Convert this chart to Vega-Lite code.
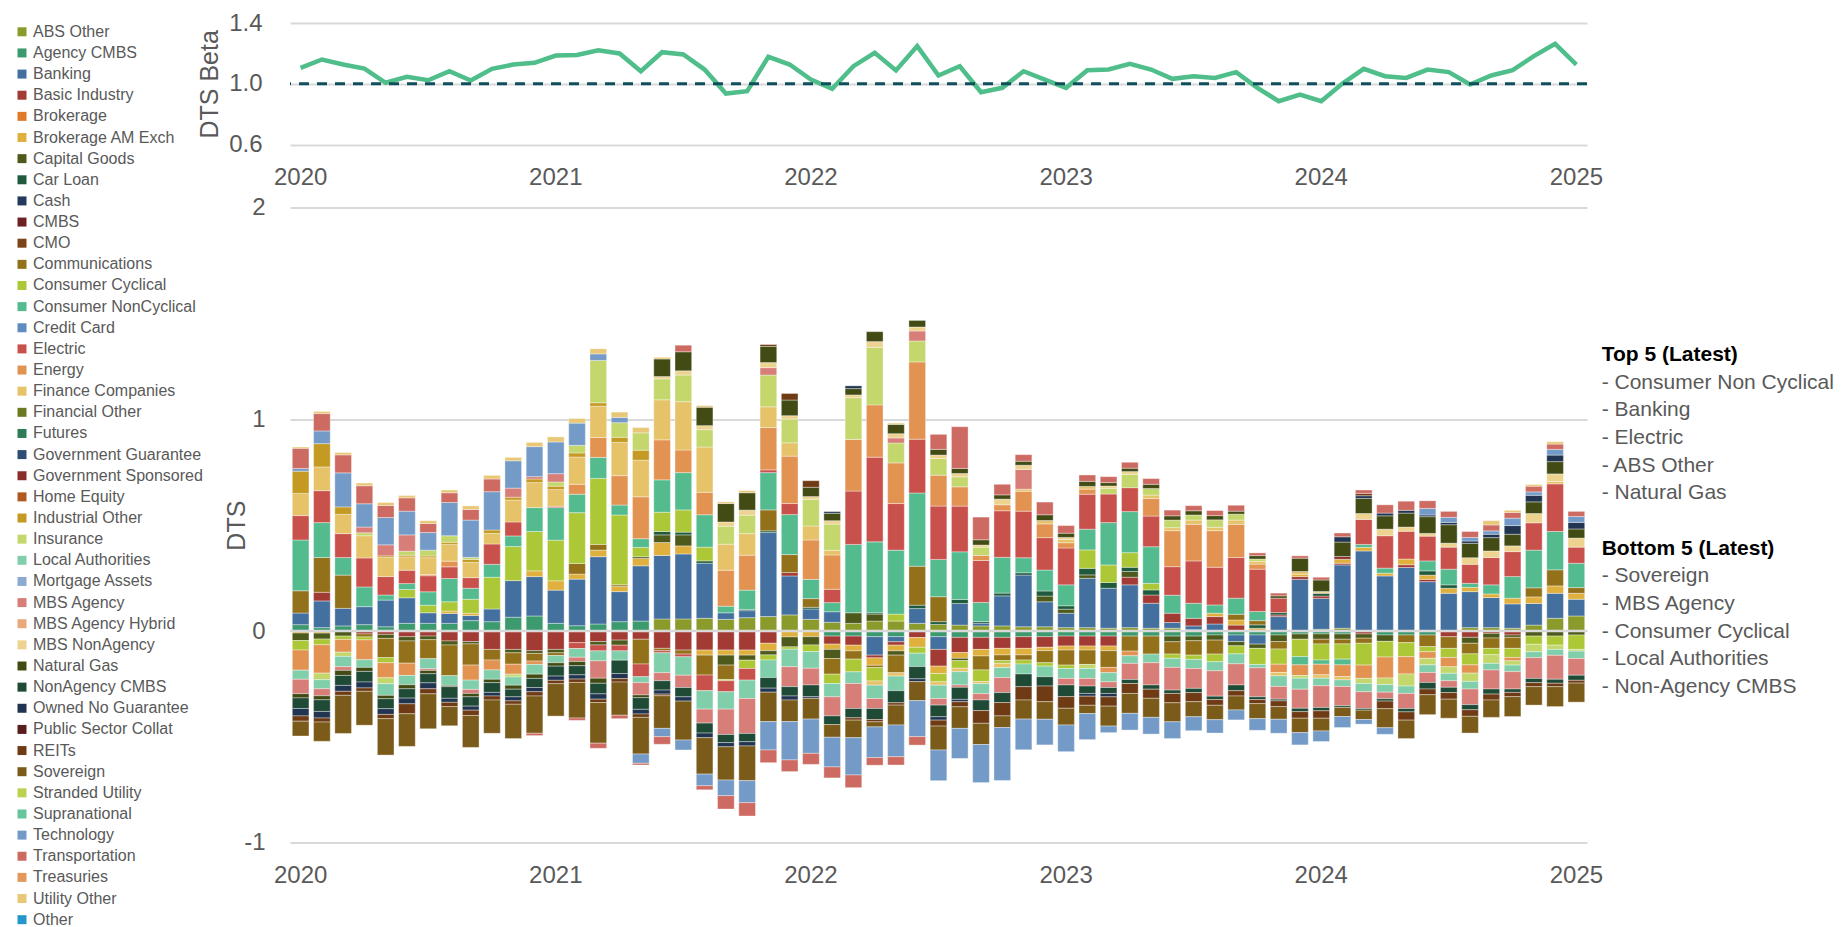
{
"$schema":"https://vega.github.io/schema/vega-lite/v6.json",
"background":"white",
"padding":{"left":14,"top":11,"right":0,"bottom":0},
"autosize":{"type":"pad"},
"config":{"font":"Liberation Sans","view":{"stroke":null},
"axis":{"labelColor":"#595959","titleColor":"#595959","labelFont":"Liberation Sans","titleFont":"Liberation Sans","labelFontSize":24,"titleFontSize":25,"titleFontWeight":"normal","domain":false,"ticks":false,"gridColor":"#d9d9d9","gridWidth":2}},
"datasets":{
"cats":[{"c":"AO","s":"ABS Other","o":0},{"c":"AC","s":"Agency CMBS","o":1},{"c":"BK","s":"Banking","o":2},{"c":"BI","s":"Basic Industry","o":3},{"c":"BR","s":"Brokerage","o":4},{"c":"BA","s":"Brokerage AM Exch","o":5},{"c":"CG","s":"Capital Goods","o":6},{"c":"CL","s":"Car Loan","o":7},{"c":"CA","s":"Cash","o":8},{"c":"CM","s":"CMBS","o":9},{"c":"CO","s":"CMO","o":10},{"c":"CC","s":"Communications","o":11},{"c":"CY","s":"Consumer Cyclical","o":12},{"c":"CN","s":"Consumer NonCyclical","o":13},{"c":"CR","s":"Credit Card","o":14},{"c":"EL","s":"Electric","o":15},{"c":"EN","s":"Energy","o":16},{"c":"FC","s":"Finance Companies","o":17},{"c":"FO","s":"Financial Other","o":18},{"c":"FU","s":"Futures","o":19},{"c":"GG","s":"Government Guarantee","o":20},{"c":"GS","s":"Government Sponsored","o":21},{"c":"HE","s":"Home Equity","o":22},{"c":"IO","s":"Industrial Other","o":23},{"c":"IN","s":"Insurance","o":24},{"c":"LA","s":"Local Authorities","o":25},{"c":"MA","s":"Mortgage Assets","o":26},{"c":"MB","s":"MBS Agency","o":27},{"c":"MH","s":"MBS Agency Hybrid","o":28},{"c":"MN","s":"MBS NonAgency","o":29},{"c":"NG","s":"Natural Gas","o":30},{"c":"NC","s":"NonAgency CMBS","o":31},{"c":"ON","s":"Owned No Guarantee","o":32},{"c":"PS","s":"Public Sector Collat","o":33},{"c":"RE","s":"REITs","o":34},{"c":"SV","s":"Sovereign","o":35},{"c":"SU","s":"Stranded Utility","o":36},{"c":"SN","s":"Supranational","o":37},{"c":"TE","s":"Technology","o":38},{"c":"TR","s":"Transportation","o":39},{"c":"TS","s":"Treasuries","o":40},{"c":"UO","s":"Utility Other","o":41},{"c":"OT","s":"Other","o":42}],
"beta":[{"m":"2020-01","b":1.105},{"m":"2020-02","b":1.16},{"m":"2020-03","b":1.127},{"m":"2020-04","b":1.1},{"m":"2020-05","b":1.007},{"m":"2020-06","b":1.046},{"m":"2020-07","b":1.024},{"m":"2020-08","b":1.083},{"m":"2020-09","b":1.022},{"m":"2020-10","b":1.099},{"m":"2020-11","b":1.127},{"m":"2020-12","b":1.138},{"m":"2021-01","b":1.186},{"m":"2021-02","b":1.19},{"m":"2021-03","b":1.221},{"m":"2021-04","b":1.2},{"m":"2021-05","b":1.083},{"m":"2021-06","b":1.208},{"m":"2021-07","b":1.193},{"m":"2021-08","b":1.094},{"m":"2021-09","b":0.936},{"m":"2021-10","b":0.952},{"m":"2021-11","b":1.178},{"m":"2021-12","b":1.127},{"m":"2022-01","b":1.028},{"m":"2022-02","b":0.967},{"m":"2022-03","b":1.116},{"m":"2022-04","b":1.204},{"m":"2022-05","b":1.088},{"m":"2022-06","b":1.248},{"m":"2022-07","b":1.055},{"m":"2022-08","b":1.116},{"m":"2022-09","b":0.945},{"m":"2022-10","b":0.974},{"m":"2022-11","b":1.083},{"m":"2022-12","b":1.028},{"m":"2023-01","b":0.974},{"m":"2023-02","b":1.09},{"m":"2023-03","b":1.094},{"m":"2023-04","b":1.131},{"m":"2023-05","b":1.094},{"m":"2023-06","b":1.033},{"m":"2023-07","b":1.05},{"m":"2023-08","b":1.039},{"m":"2023-09","b":1.077},{"m":"2023-10","b":0.974},{"m":"2023-11","b":0.886},{"m":"2023-12","b":0.93},{"m":"2024-01","b":0.886},{"m":"2024-02","b":1.002},{"m":"2024-03","b":1.099},{"m":"2024-04","b":1.05},{"m":"2024-05","b":1.039},{"m":"2024-06","b":1.094},{"m":"2024-07","b":1.077},{"m":"2024-08","b":0.996},{"m":"2024-09","b":1.055},{"m":"2024-10","b":1.09},{"m":"2024-11","b":1.182},{"m":"2024-12","b":1.263},{"m":"2025-01","b":1.127}],
"notes":[{"k":0,"t":"Top 5 (Latest)","h":true},{"k":1,"t":"- Consumer Non Cyclical","h":false},{"k":2,"t":"- Banking","h":false},{"k":3,"t":"- Electric","h":false},{"k":4,"t":"- ABS Other","h":false},{"k":5,"t":"- Natural Gas","h":false},{"k":7,"t":"Bottom 5 (Latest)","h":true},{"k":8,"t":"- Sovereign","h":false},{"k":9,"t":"- MBS Agency","h":false},{"k":10,"t":"- Consumer Cyclical","h":false},{"k":11,"t":"- Local Authorities","h":false},{"k":12,"t":"- Non-Agency CMBS","h":false}],
"bars":[
{"m":"2020-01","c":"AC","v":0.03},{"m":"2020-01","c":"BK","v":0.055},{"m":"2020-01","c":"CC","v":0.105},{"m":"2020-01","c":"CN","v":0.24},{"m":"2020-01","c":"EL","v":0.115},{"m":"2020-01","c":"FC","v":0.105},{"m":"2020-01","c":"IO","v":0.105},{"m":"2020-01","c":"TE","v":0.013},{"m":"2020-01","c":"TR","v":0.095},{"m":"2020-01","c":"UO","v":0.006},{"m":"2020-01","c":"BA","v":-0.01},{"m":"2020-01","c":"CG","v":-0.035},{"m":"2020-01","c":"CY","v":-0.045},{"m":"2020-01","c":"EN","v":-0.095},{"m":"2020-01","c":"LA","v":-0.043},{"m":"2020-01","c":"MB","v":-0.068},{"m":"2020-01","c":"NG","v":-0.02},{"m":"2020-01","c":"NC","v":-0.05},{"m":"2020-01","c":"ON","v":-0.035},{"m":"2020-01","c":"RE","v":-0.025},{"m":"2020-01","c":"SV","v":-0.07},
{"m":"2020-02","c":"AC","v":0.016},{"m":"2020-02","c":"BK","v":0.126},{"m":"2020-02","c":"BI","v":0.041},{"m":"2020-02","c":"CC","v":0.164},{"m":"2020-02","c":"CN","v":0.165},{"m":"2020-02","c":"EL","v":0.151},{"m":"2020-02","c":"FC","v":0.112},{"m":"2020-02","c":"IO","v":0.11},{"m":"2020-02","c":"TE","v":0.06},{"m":"2020-02","c":"TR","v":0.082},{"m":"2020-02","c":"UO","v":0.01},{"m":"2020-02","c":"BA","v":-0.01},{"m":"2020-02","c":"CG","v":-0.028},{"m":"2020-02","c":"CY","v":-0.027},{"m":"2020-02","c":"EN","v":-0.134},{"m":"2020-02","c":"IN","v":-0.031},{"m":"2020-02","c":"LA","v":-0.043},{"m":"2020-02","c":"MB","v":-0.033},{"m":"2020-02","c":"NG","v":-0.019},{"m":"2020-02","c":"NC","v":-0.055},{"m":"2020-02","c":"ON","v":-0.031},{"m":"2020-02","c":"RE","v":-0.019},{"m":"2020-02","c":"SV","v":-0.091},
{"m":"2020-03","c":"AC","v":0.024},{"m":"2020-03","c":"BK","v":0.083},{"m":"2020-03","c":"CC","v":0.157},{"m":"2020-03","c":"CN","v":0.083},{"m":"2020-03","c":"EL","v":0.113},{"m":"2020-03","c":"FC","v":0.091},{"m":"2020-03","c":"IO","v":0.035},{"m":"2020-03","c":"TE","v":0.161},{"m":"2020-03","c":"TR","v":0.085},{"m":"2020-03","c":"UO","v":0.011},{"m":"2020-03","c":"CG","v":-0.024},{"m":"2020-03","c":"CY","v":-0.016},{"m":"2020-03","c":"EN","v":-0.06},{"m":"2020-03","c":"IN","v":-0.02},{"m":"2020-03","c":"LA","v":-0.049},{"m":"2020-03","c":"MB","v":-0.017},{"m":"2020-03","c":"NG","v":-0.024},{"m":"2020-03","c":"NC","v":-0.047},{"m":"2020-03","c":"ON","v":-0.028},{"m":"2020-03","c":"RE","v":-0.019},{"m":"2020-03","c":"SV","v":-0.18},
{"m":"2020-04","c":"AC","v":0.03},{"m":"2020-04","c":"BK","v":0.085},{"m":"2020-04","c":"CN","v":0.093},{"m":"2020-04","c":"EL","v":0.137},{"m":"2020-04","c":"FC","v":0.105},{"m":"2020-04","c":"IN","v":0.014},{"m":"2020-04","c":"MB","v":0.027},{"m":"2020-04","c":"TE","v":0.11},{"m":"2020-04","c":"TR","v":0.085},{"m":"2020-04","c":"UO","v":0.013},{"m":"2020-04","c":"BI","v":-0.014},{"m":"2020-04","c":"CC","v":-0.014},{"m":"2020-04","c":"CY","v":-0.014},{"m":"2020-04","c":"EN","v":-0.094},{"m":"2020-04","c":"LA","v":-0.036},{"m":"2020-04","c":"NG","v":-0.019},{"m":"2020-04","c":"NC","v":-0.05},{"m":"2020-04","c":"ON","v":-0.028},{"m":"2020-04","c":"RE","v":-0.016},{"m":"2020-04","c":"SV","v":-0.16},
{"m":"2020-05","c":"AC","v":0.02},{"m":"2020-05","c":"BK","v":0.126},{"m":"2020-05","c":"CN","v":0.024},{"m":"2020-05","c":"EL","v":0.087},{"m":"2020-05","c":"FC","v":0.09},{"m":"2020-05","c":"IO","v":0.008},{"m":"2020-05","c":"MB","v":0.052},{"m":"2020-05","c":"TE","v":0.129},{"m":"2020-05","c":"TR","v":0.057},{"m":"2020-05","c":"UO","v":0.014},{"m":"2020-05","c":"BI","v":-0.016},{"m":"2020-05","c":"CG","v":-0.019},{"m":"2020-05","c":"CC","v":-0.091},{"m":"2020-05","c":"CY","v":-0.024},{"m":"2020-05","c":"EN","v":-0.071},{"m":"2020-05","c":"IN","v":-0.028},{"m":"2020-05","c":"LA","v":-0.055},{"m":"2020-05","c":"NG","v":-0.016},{"m":"2020-05","c":"NC","v":-0.047},{"m":"2020-05","c":"ON","v":-0.027},{"m":"2020-05","c":"RE","v":-0.02},{"m":"2020-05","c":"SV","v":-0.172},
{"m":"2020-06","c":"AC","v":0.036},{"m":"2020-06","c":"BK","v":0.121},{"m":"2020-06","c":"CY","v":0.039},{"m":"2020-06","c":"CN","v":0.028},{"m":"2020-06","c":"EL","v":0.063},{"m":"2020-06","c":"FC","v":0.063},{"m":"2020-06","c":"IO","v":0.008},{"m":"2020-06","c":"IN","v":0.019},{"m":"2020-06","c":"MB","v":0.077},{"m":"2020-06","c":"TE","v":0.112},{"m":"2020-06","c":"TR","v":0.063},{"m":"2020-06","c":"UO","v":0.011},{"m":"2020-06","c":"BI","v":-0.027},{"m":"2020-06","c":"CG","v":-0.02},{"m":"2020-06","c":"CC","v":-0.105},{"m":"2020-06","c":"EN","v":-0.058},{"m":"2020-06","c":"LA","v":-0.044},{"m":"2020-06","c":"NG","v":-0.019},{"m":"2020-06","c":"NC","v":-0.044},{"m":"2020-06","c":"ON","v":-0.027},{"m":"2020-06","c":"RE","v":-0.047},{"m":"2020-06","c":"SV","v":-0.154},
{"m":"2020-07","c":"AC","v":0.036},{"m":"2020-07","c":"BK","v":0.05},{"m":"2020-07","c":"CY","v":0.036},{"m":"2020-07","c":"CN","v":0.063},{"m":"2020-07","c":"EL","v":0.076},{"m":"2020-07","c":"EN","v":0.006},{"m":"2020-07","c":"FC","v":0.079},{"m":"2020-07","c":"IO","v":0.008},{"m":"2020-07","c":"IN","v":0.028},{"m":"2020-07","c":"TE","v":0.083},{"m":"2020-07","c":"TR","v":0.043},{"m":"2020-07","c":"UO","v":0.013},{"m":"2020-07","c":"BI","v":-0.024},{"m":"2020-07","c":"CG","v":-0.017},{"m":"2020-07","c":"CC","v":-0.09},{"m":"2020-07","c":"LA","v":-0.047},{"m":"2020-07","c":"MB","v":-0.008},{"m":"2020-07","c":"NG","v":-0.016},{"m":"2020-07","c":"NC","v":-0.043},{"m":"2020-07","c":"ON","v":-0.028},{"m":"2020-07","c":"RE","v":-0.024},{"m":"2020-07","c":"SV","v":-0.165},
{"m":"2020-08","c":"AC","v":0.036},{"m":"2020-08","c":"BK","v":0.047},{"m":"2020-08","c":"BA","v":0.011},{"m":"2020-08","c":"CY","v":0.044},{"m":"2020-08","c":"CN","v":0.11},{"m":"2020-08","c":"EL","v":0.055},{"m":"2020-08","c":"EN","v":0.027},{"m":"2020-08","c":"FC","v":0.079},{"m":"2020-08","c":"IO","v":0.01},{"m":"2020-08","c":"IN","v":0.031},{"m":"2020-08","c":"TE","v":0.157},{"m":"2020-08","c":"TR","v":0.046},{"m":"2020-08","c":"UO","v":0.013},{"m":"2020-08","c":"BI","v":-0.047},{"m":"2020-08","c":"CG","v":-0.019},{"m":"2020-08","c":"CC","v":-0.145},{"m":"2020-08","c":"LA","v":-0.046},{"m":"2020-08","c":"NG","v":-0.006},{"m":"2020-08","c":"NC","v":-0.055},{"m":"2020-08","c":"ON","v":-0.019},{"m":"2020-08","c":"RE","v":-0.02},{"m":"2020-08","c":"SV","v":-0.091},
{"m":"2020-09","c":"AC","v":0.049},{"m":"2020-09","c":"BK","v":0.024},{"m":"2020-09","c":"BA","v":0.011},{"m":"2020-09","c":"CY","v":0.066},{"m":"2020-09","c":"CN","v":0.052},{"m":"2020-09","c":"EL","v":0.05},{"m":"2020-09","c":"FC","v":0.072},{"m":"2020-09","c":"IO","v":0.014},{"m":"2020-09","c":"IN","v":0.01},{"m":"2020-09","c":"TE","v":0.176},{"m":"2020-09","c":"TR","v":0.05},{"m":"2020-09","c":"UO","v":0.017},{"m":"2020-09","c":"BI","v":-0.05},{"m":"2020-09","c":"CG","v":-0.011},{"m":"2020-09","c":"CC","v":-0.1},{"m":"2020-09","c":"EN","v":-0.071},{"m":"2020-09","c":"LA","v":-0.044},{"m":"2020-09","c":"MB","v":-0.019},{"m":"2020-09","c":"NG","v":-0.016},{"m":"2020-09","c":"NC","v":-0.044},{"m":"2020-09","c":"ON","v":-0.019},{"m":"2020-09","c":"RE","v":-0.025},{"m":"2020-09","c":"SV","v":-0.151},
{"m":"2020-10","c":"AC","v":0.044},{"m":"2020-10","c":"BK","v":0.06},{"m":"2020-10","c":"CY","v":0.15},{"m":"2020-10","c":"CN","v":0.061},{"m":"2020-10","c":"EL","v":0.096},{"m":"2020-10","c":"FC","v":0.05},{"m":"2020-10","c":"IO","v":0.016},{"m":"2020-10","c":"TE","v":0.181},{"m":"2020-10","c":"TR","v":0.06},{"m":"2020-10","c":"UO","v":0.017},{"m":"2020-10","c":"BI","v":-0.087},{"m":"2020-10","c":"CC","v":-0.05},{"m":"2020-10","c":"EN","v":-0.047},{"m":"2020-10","c":"LA","v":-0.044},{"m":"2020-10","c":"NG","v":-0.016},{"m":"2020-10","c":"NC","v":-0.046},{"m":"2020-10","c":"ON","v":-0.017},{"m":"2020-10","c":"RE","v":-0.019},{"m":"2020-10","c":"SV","v":-0.157},
{"m":"2020-11","c":"AC","v":0.065},{"m":"2020-11","c":"BK","v":0.173},{"m":"2020-11","c":"CY","v":0.161},{"m":"2020-11","c":"CN","v":0.05},{"m":"2020-11","c":"EL","v":0.066},{"m":"2020-11","c":"FC","v":0.104},{"m":"2020-11","c":"IO","v":0.013},{"m":"2020-11","c":"MB","v":0.043},{"m":"2020-11","c":"TE","v":0.129},{"m":"2020-11","c":"UO","v":0.016},{"m":"2020-11","c":"BI","v":-0.087},{"m":"2020-11","c":"CG","v":-0.016},{"m":"2020-11","c":"CC","v":-0.054},{"m":"2020-11","c":"EN","v":-0.047},{"m":"2020-11","c":"IN","v":-0.013},{"m":"2020-11","c":"LA","v":-0.039},{"m":"2020-11","c":"NG","v":-0.019},{"m":"2020-11","c":"NC","v":-0.036},{"m":"2020-11","c":"ON","v":-0.019},{"m":"2020-11","c":"RE","v":-0.016},{"m":"2020-11","c":"SV","v":-0.162},
{"m":"2020-12","c":"AC","v":0.071},{"m":"2020-12","c":"BK","v":0.186},{"m":"2020-12","c":"BA","v":0.027},{"m":"2020-12","c":"CY","v":0.186},{"m":"2020-12","c":"CN","v":0.113},{"m":"2020-12","c":"FC","v":0.118},{"m":"2020-12","c":"IO","v":0.017},{"m":"2020-12","c":"MB","v":0.011},{"m":"2020-12","c":"TE","v":0.142},{"m":"2020-12","c":"UO","v":0.02},{"m":"2020-12","c":"BI","v":-0.093},{"m":"2020-12","c":"CG","v":-0.013},{"m":"2020-12","c":"CC","v":-0.036},{"m":"2020-12","c":"EN","v":-0.016},{"m":"2020-12","c":"LA","v":-0.046},{"m":"2020-12","c":"NG","v":-0.02},{"m":"2020-12","c":"NC","v":-0.043},{"m":"2020-12","c":"ON","v":-0.02},{"m":"2020-12","c":"RE","v":-0.02},{"m":"2020-12","c":"SV","v":-0.176},{"m":"2020-12","c":"TR","v":-0.011},
{"m":"2021-01","c":"AC","v":0.036},{"m":"2021-01","c":"BK","v":0.157},{"m":"2021-01","c":"BA","v":0.044},{"m":"2021-01","c":"CY","v":0.192},{"m":"2021-01","c":"CN","v":0.154},{"m":"2021-01","c":"EL","v":0.006},{"m":"2021-01","c":"FC","v":0.079},{"m":"2021-01","c":"IO","v":0.016},{"m":"2021-01","c":"IN","v":0.02},{"m":"2021-01","c":"MB","v":0.039},{"m":"2021-01","c":"TE","v":0.15},{"m":"2021-01","c":"UO","v":0.024},{"m":"2021-01","c":"BI","v":-0.087},{"m":"2021-01","c":"CG","v":-0.016},{"m":"2021-01","c":"CC","v":-0.013},{"m":"2021-01","c":"LA","v":-0.034},{"m":"2021-01","c":"NG","v":-0.016},{"m":"2021-01","c":"NC","v":-0.047},{"m":"2021-01","c":"ON","v":-0.02},{"m":"2021-01","c":"RE","v":-0.016},{"m":"2021-01","c":"SV","v":-0.153},
{"m":"2021-02","c":"AC","v":0.025},{"m":"2021-02","c":"BK","v":0.22},{"m":"2021-02","c":"BA","v":0.024},{"m":"2021-02","c":"CC","v":0.05},{"m":"2021-02","c":"CY","v":0.24},{"m":"2021-02","c":"CN","v":0.087},{"m":"2021-02","c":"EN","v":0.047},{"m":"2021-02","c":"FC","v":0.129},{"m":"2021-02","c":"IO","v":0.019},{"m":"2021-02","c":"IN","v":0.036},{"m":"2021-02","c":"TE","v":0.105},{"m":"2021-02","c":"UO","v":0.022},{"m":"2021-02","c":"BI","v":-0.055},{"m":"2021-02","c":"EL","v":-0.028},{"m":"2021-02","c":"LA","v":-0.041},{"m":"2021-02","c":"MB","v":-0.02},{"m":"2021-02","c":"NG","v":-0.02},{"m":"2021-02","c":"NC","v":-0.043},{"m":"2021-02","c":"ON","v":-0.02},{"m":"2021-02","c":"RE","v":-0.016},{"m":"2021-02","c":"SV","v":-0.168},{"m":"2021-02","c":"TR","v":-0.011},
{"m":"2021-03","c":"AC","v":0.033},{"m":"2021-03","c":"BK","v":0.318},{"m":"2021-03","c":"BA","v":0.031},{"m":"2021-03","c":"CC","v":0.027},{"m":"2021-03","c":"CY","v":0.312},{"m":"2021-03","c":"CN","v":0.099},{"m":"2021-03","c":"EN","v":0.094},{"m":"2021-03","c":"FC","v":0.148},{"m":"2021-03","c":"IO","v":0.016},{"m":"2021-03","c":"IN","v":0.2},{"m":"2021-03","c":"TE","v":0.031},{"m":"2021-03","c":"UO","v":0.024},{"m":"2021-03","c":"BI","v":-0.05},{"m":"2021-03","c":"CG","v":-0.016},{"m":"2021-03","c":"EL","v":-0.028},{"m":"2021-03","c":"LA","v":-0.047},{"m":"2021-03","c":"MB","v":-0.082},{"m":"2021-03","c":"NG","v":-0.024},{"m":"2021-03","c":"NC","v":-0.05},{"m":"2021-03","c":"ON","v":-0.025},{"m":"2021-03","c":"RE","v":-0.016},{"m":"2021-03","c":"SV","v":-0.192},{"m":"2021-03","c":"TR","v":-0.024},
{"m":"2021-04","c":"AC","v":0.044},{"m":"2021-04","c":"BK","v":0.142},{"m":"2021-04","c":"BA","v":0.024},{"m":"2021-04","c":"CC","v":0.008},{"m":"2021-04","c":"CY","v":0.33},{"m":"2021-04","c":"CN","v":0.047},{"m":"2021-04","c":"EN","v":0.139},{"m":"2021-04","c":"FC","v":0.157},{"m":"2021-04","c":"IO","v":0.024},{"m":"2021-04","c":"IN","v":0.069},{"m":"2021-04","c":"TE","v":0.025},{"m":"2021-04","c":"UO","v":0.025},{"m":"2021-04","c":"BI","v":-0.043},{"m":"2021-04","c":"CG","v":-0.024},{"m":"2021-04","c":"EL","v":-0.027},{"m":"2021-04","c":"LA","v":-0.044},{"m":"2021-04","c":"NC","v":-0.063},{"m":"2021-04","c":"ON","v":-0.024},{"m":"2021-04","c":"RE","v":-0.016},{"m":"2021-04","c":"SV","v":-0.157},{"m":"2021-04","c":"TR","v":-0.016},
{"m":"2021-05","c":"AC","v":0.047},{"m":"2021-05","c":"BK","v":0.261},{"m":"2021-05","c":"BA","v":0.035},{"m":"2021-05","c":"CG","v":0.008},{"m":"2021-05","c":"CY","v":0.044},{"m":"2021-05","c":"CN","v":0.041},{"m":"2021-05","c":"EN","v":0.198},{"m":"2021-05","c":"FC","v":0.173},{"m":"2021-05","c":"IO","v":0.047},{"m":"2021-05","c":"IN","v":0.082},{"m":"2021-05","c":"UO","v":0.025},{"m":"2021-05","c":"BI","v":-0.039},{"m":"2021-05","c":"CC","v":-0.117},{"m":"2021-05","c":"EL","v":-0.06},{"m":"2021-05","c":"LA","v":-0.028},{"m":"2021-05","c":"MB","v":-0.058},{"m":"2021-05","c":"NG","v":-0.013},{"m":"2021-05","c":"NC","v":-0.055},{"m":"2021-05","c":"ON","v":-0.022},{"m":"2021-05","c":"RE","v":-0.016},{"m":"2021-05","c":"SV","v":-0.173},{"m":"2021-05","c":"TE","v":-0.044},{"m":"2021-05","c":"TR","v":-0.008},
{"m":"2021-06","c":"AO","v":0.057},{"m":"2021-06","c":"BK","v":0.3},{"m":"2021-06","c":"BA","v":0.061},{"m":"2021-06","c":"CG","v":0.036},{"m":"2021-06","c":"CL","v":0.016},{"m":"2021-06","c":"CY","v":0.091},{"m":"2021-06","c":"CN","v":0.153},{"m":"2021-06","c":"EN","v":0.189},{"m":"2021-06","c":"FC","v":0.189},{"m":"2021-06","c":"IN","v":0.099},{"m":"2021-06","c":"MN","v":0.011},{"m":"2021-06","c":"NG","v":0.083},{"m":"2021-06","c":"UO","v":0.008},{"m":"2021-06","c":"BI","v":-0.082},{"m":"2021-06","c":"CC","v":-0.011},{"m":"2021-06","c":"EL","v":-0.01},{"m":"2021-06","c":"LA","v":-0.094},{"m":"2021-06","c":"MB","v":-0.038},{"m":"2021-06","c":"NC","v":-0.044},{"m":"2021-06","c":"ON","v":-0.019},{"m":"2021-06","c":"RE","v":-0.008},{"m":"2021-06","c":"SV","v":-0.154},{"m":"2021-06","c":"TE","v":-0.039},{"m":"2021-06","c":"TR","v":-0.036},
{"m":"2021-07","c":"AO","v":0.057},{"m":"2021-07","c":"BK","v":0.307},{"m":"2021-07","c":"BA","v":0.038},{"m":"2021-07","c":"CG","v":0.052},{"m":"2021-07","c":"CL","v":0.013},{"m":"2021-07","c":"CY","v":0.105},{"m":"2021-07","c":"CN","v":0.176},{"m":"2021-07","c":"EN","v":0.107},{"m":"2021-07","c":"FC","v":0.228},{"m":"2021-07","c":"IN","v":0.126},{"m":"2021-07","c":"MN","v":0.02},{"m":"2021-07","c":"NG","v":0.09},{"m":"2021-07","c":"TR","v":0.031},{"m":"2021-07","c":"BI","v":-0.09},{"m":"2021-07","c":"CC","v":-0.019},{"m":"2021-07","c":"EL","v":-0.013},{"m":"2021-07","c":"LA","v":-0.087},{"m":"2021-07","c":"MB","v":-0.058},{"m":"2021-07","c":"NC","v":-0.044},{"m":"2021-07","c":"ON","v":-0.02},{"m":"2021-07","c":"SV","v":-0.184},{"m":"2021-07","c":"TE","v":-0.047},
{"m":"2021-08","c":"AO","v":0.06},{"m":"2021-08","c":"BK","v":0.26},{"m":"2021-08","c":"CL","v":0.011},{"m":"2021-08","c":"CY","v":0.065},{"m":"2021-08","c":"CN","v":0.153},{"m":"2021-08","c":"EN","v":0.106},{"m":"2021-08","c":"FC","v":0.214},{"m":"2021-08","c":"IN","v":0.082},{"m":"2021-08","c":"MN","v":0.019},{"m":"2021-08","c":"NG","v":0.087},{"m":"2021-08","c":"UO","v":0.008},{"m":"2021-08","c":"BI","v":-0.09},{"m":"2021-08","c":"BA","v":-0.024},{"m":"2021-08","c":"CC","v":-0.094},{"m":"2021-08","c":"EL","v":-0.074},{"m":"2021-08","c":"LA","v":-0.087},{"m":"2021-08","c":"MB","v":-0.066},{"m":"2021-08","c":"NC","v":-0.047},{"m":"2021-08","c":"ON","v":-0.022},{"m":"2021-08","c":"SV","v":-0.172},{"m":"2021-08","c":"TE","v":-0.055},{"m":"2021-08","c":"TR","v":-0.019},
{"m":"2021-09","c":"AO","v":0.055},{"m":"2021-09","c":"BK","v":0.031},{"m":"2021-09","c":"CN","v":0.031},{"m":"2021-09","c":"EN","v":0.17},{"m":"2021-09","c":"FC","v":0.123},{"m":"2021-09","c":"IN","v":0.085},{"m":"2021-09","c":"MN","v":0.02},{"m":"2021-09","c":"NG","v":0.087},{"m":"2021-09","c":"UO","v":0.008},{"m":"2021-09","c":"BI","v":-0.09},{"m":"2021-09","c":"BA","v":-0.024},{"m":"2021-09","c":"CG","v":-0.047},{"m":"2021-09","c":"CC","v":-0.068},{"m":"2021-09","c":"CY","v":-0.006},{"m":"2021-09","c":"EL","v":-0.052},{"m":"2021-09","c":"LA","v":-0.082},{"m":"2021-09","c":"MB","v":-0.12},{"m":"2021-09","c":"NC","v":-0.038},{"m":"2021-09","c":"ON","v":-0.02},{"m":"2021-09","c":"SV","v":-0.157},{"m":"2021-09","c":"TE","v":-0.074},{"m":"2021-09","c":"TR","v":-0.063},
{"m":"2021-10","c":"AO","v":0.063},{"m":"2021-10","c":"BK","v":0.033},{"m":"2021-10","c":"CL","v":0.006},{"m":"2021-10","c":"CN","v":0.091},{"m":"2021-10","c":"EN","v":0.165},{"m":"2021-10","c":"FC","v":0.102},{"m":"2021-10","c":"IN","v":0.087},{"m":"2021-10","c":"MN","v":0.024},{"m":"2021-10","c":"NG","v":0.082},{"m":"2021-10","c":"UO","v":0.01},{"m":"2021-10","c":"BI","v":-0.09},{"m":"2021-10","c":"BA","v":-0.024},{"m":"2021-10","c":"CG","v":-0.024},{"m":"2021-10","c":"CY","v":-0.039},{"m":"2021-10","c":"EL","v":-0.055},{"m":"2021-10","c":"LA","v":-0.087},{"m":"2021-10","c":"MB","v":-0.165},{"m":"2021-10","c":"NC","v":-0.039},{"m":"2021-10","c":"ON","v":-0.02},{"m":"2021-10","c":"SV","v":-0.164},{"m":"2021-10","c":"TE","v":-0.104},{"m":"2021-10","c":"TR","v":-0.063},
{"m":"2021-11","c":"AO","v":0.068},{"m":"2021-11","c":"BK","v":0.397},{"m":"2021-11","c":"CL","v":0.008},{"m":"2021-11","c":"CC","v":0.099},{"m":"2021-11","c":"CN","v":0.176},{"m":"2021-11","c":"EL","v":0.013},{"m":"2021-11","c":"EN","v":0.2},{"m":"2021-11","c":"FC","v":0.098},{"m":"2021-11","c":"IN","v":0.15},{"m":"2021-11","c":"MB","v":0.035},{"m":"2021-11","c":"MN","v":0.024},{"m":"2021-11","c":"NG","v":0.076},{"m":"2021-11","c":"RE","v":0.009},{"m":"2021-11","c":"BI","v":-0.058},{"m":"2021-11","c":"BA","v":-0.035},{"m":"2021-11","c":"CG","v":-0.02},{"m":"2021-11","c":"CY","v":-0.024},{"m":"2021-11","c":"LA","v":-0.083},{"m":"2021-11","c":"NC","v":-0.05},{"m":"2021-11","c":"ON","v":-0.019},{"m":"2021-11","c":"SV","v":-0.139},{"m":"2021-11","c":"TE","v":-0.134},{"m":"2021-11","c":"TR","v":-0.06},
{"m":"2021-12","c":"AO","v":0.076},{"m":"2021-12","c":"BK","v":0.184},{"m":"2021-12","c":"BI","v":0.016},{"m":"2021-12","c":"CC","v":0.085},{"m":"2021-12","c":"CN","v":0.189},{"m":"2021-12","c":"EL","v":0.052},{"m":"2021-12","c":"EN","v":0.224},{"m":"2021-12","c":"FC","v":0.063},{"m":"2021-12","c":"IN","v":0.112},{"m":"2021-12","c":"MN","v":0.016},{"m":"2021-12","c":"NG","v":0.074},{"m":"2021-12","c":"RE","v":0.031},{"m":"2021-12","c":"BA","v":-0.028},{"m":"2021-12","c":"CG","v":-0.047},{"m":"2021-12","c":"CY","v":-0.011},{"m":"2021-12","c":"LA","v":-0.083},{"m":"2021-12","c":"MB","v":-0.094},{"m":"2021-12","c":"NC","v":-0.044},{"m":"2021-12","c":"ON","v":-0.019},{"m":"2021-12","c":"SV","v":-0.102},{"m":"2021-12","c":"TE","v":-0.181},{"m":"2021-12","c":"TR","v":-0.055},
{"m":"2022-01","c":"AO","v":0.055},{"m":"2022-01","c":"BK","v":0.049},{"m":"2022-01","c":"CL","v":0.008},{"m":"2022-01","c":"CC","v":0.041},{"m":"2022-01","c":"CN","v":0.091},{"m":"2022-01","c":"EN","v":0.186},{"m":"2022-01","c":"FC","v":0.066},{"m":"2022-01","c":"IN","v":0.126},{"m":"2022-01","c":"MN","v":0.013},{"m":"2022-01","c":"NG","v":0.044},{"m":"2022-01","c":"RE","v":0.031},{"m":"2022-01","c":"BA","v":-0.027},{"m":"2022-01","c":"CG","v":-0.039},{"m":"2022-01","c":"CY","v":-0.031},{"m":"2022-01","c":"LA","v":-0.079},{"m":"2022-01","c":"MB","v":-0.079},{"m":"2022-01","c":"NC","v":-0.055},{"m":"2022-01","c":"ON","v":-0.008},{"m":"2022-01","c":"SV","v":-0.098},{"m":"2022-01","c":"TE","v":-0.162},{"m":"2022-01","c":"TR","v":-0.052},
{"m":"2022-02","c":"AO","v":0.041},{"m":"2022-02","c":"BK","v":0.05},{"m":"2022-02","c":"CN","v":0.043},{"m":"2022-02","c":"EL","v":0.063},{"m":"2022-02","c":"EN","v":0.162},{"m":"2022-02","c":"FC","v":0.022},{"m":"2022-02","c":"IN","v":0.124},{"m":"2022-02","c":"MN","v":0.016},{"m":"2022-02","c":"NG","v":0.035},{"m":"2022-02","c":"ON","v":0.008},{"m":"2022-02","c":"AC","v":-0.024},{"m":"2022-02","c":"BI","v":-0.038},{"m":"2022-02","c":"BA","v":-0.025},{"m":"2022-02","c":"CG","v":-0.043},{"m":"2022-02","c":"CC","v":-0.074},{"m":"2022-02","c":"CY","v":-0.044},{"m":"2022-02","c":"LA","v":-0.063},{"m":"2022-02","c":"MB","v":-0.09},{"m":"2022-02","c":"NC","v":-0.041},{"m":"2022-02","c":"SV","v":-0.06},{"m":"2022-02","c":"TE","v":-0.14},{"m":"2022-02","c":"TR","v":-0.052},
{"m":"2022-03","c":"AO","v":0.036},{"m":"2022-03","c":"CG","v":0.05},{"m":"2022-03","c":"CN","v":0.323},{"m":"2022-03","c":"EL","v":0.252},{"m":"2022-03","c":"EN","v":0.244},{"m":"2022-03","c":"IN","v":0.197},{"m":"2022-03","c":"MN","v":0.013},{"m":"2022-03","c":"NG","v":0.03},{"m":"2022-03","c":"ON","v":0.013},{"m":"2022-03","c":"AC","v":-0.024},{"m":"2022-03","c":"BI","v":-0.043},{"m":"2022-03","c":"BA","v":-0.027},{"m":"2022-03","c":"CC","v":-0.039},{"m":"2022-03","c":"CY","v":-0.06},{"m":"2022-03","c":"LA","v":-0.055},{"m":"2022-03","c":"MB","v":-0.118},{"m":"2022-03","c":"NC","v":-0.044},{"m":"2022-03","c":"RE","v":-0.011},{"m":"2022-03","c":"SV","v":-0.083},{"m":"2022-03","c":"TE","v":-0.176},{"m":"2022-03","c":"TR","v":-0.06},
{"m":"2022-04","c":"AO","v":0.047},{"m":"2022-04","c":"CG","v":0.033},{"m":"2022-04","c":"CL","v":0.006},{"m":"2022-04","c":"CN","v":0.335},{"m":"2022-04","c":"EL","v":0.4},{"m":"2022-04","c":"EN","v":0.247},{"m":"2022-04","c":"IN","v":0.272},{"m":"2022-04","c":"MN","v":0.027},{"m":"2022-04","c":"NG","v":0.047},{"m":"2022-04","c":"AC","v":-0.027},{"m":"2022-04","c":"BK","v":-0.087},{"m":"2022-04","c":"BI","v":-0.013},{"m":"2022-04","c":"BA","v":-0.035},{"m":"2022-04","c":"CC","v":-0.011},{"m":"2022-04","c":"CY","v":-0.063},{"m":"2022-04","c":"FC","v":-0.02},{"m":"2022-04","c":"LA","v":-0.063},{"m":"2022-04","c":"MB","v":-0.047},{"m":"2022-04","c":"NC","v":-0.052},{"m":"2022-04","c":"RE","v":-0.011},{"m":"2022-04","c":"SV","v":-0.024},{"m":"2022-04","c":"TE","v":-0.145},{"m":"2022-04","c":"TR","v":-0.036},
{"m":"2022-05","c":"AO","v":0.047},{"m":"2022-05","c":"CY","v":0.033},{"m":"2022-05","c":"CN","v":0.302},{"m":"2022-05","c":"EL","v":0.22},{"m":"2022-05","c":"EN","v":0.192},{"m":"2022-05","c":"IN","v":0.094},{"m":"2022-05","c":"MB","v":0.024},{"m":"2022-05","c":"MN","v":0.02},{"m":"2022-05","c":"NG","v":0.044},{"m":"2022-05","c":"UO","v":0.006},{"m":"2022-05","c":"AC","v":-0.027},{"m":"2022-05","c":"BK","v":-0.024},{"m":"2022-05","c":"BI","v":-0.016},{"m":"2022-05","c":"BA","v":-0.027},{"m":"2022-05","c":"CG","v":-0.02},{"m":"2022-05","c":"CC","v":-0.083},{"m":"2022-05","c":"FC","v":-0.016},{"m":"2022-05","c":"LA","v":-0.069},{"m":"2022-05","c":"NC","v":-0.057},{"m":"2022-05","c":"RE","v":-0.011},{"m":"2022-05","c":"SV","v":-0.094},{"m":"2022-05","c":"TE","v":-0.15},{"m":"2022-05","c":"TR","v":-0.039},
{"m":"2022-06","c":"AO","v":0.036},{"m":"2022-06","c":"BK","v":0.07},{"m":"2022-06","c":"CL","v":0.016},{"m":"2022-06","c":"CC","v":0.184},{"m":"2022-06","c":"CN","v":0.346},{"m":"2022-06","c":"EL","v":0.254},{"m":"2022-06","c":"EN","v":0.365},{"m":"2022-06","c":"IN","v":0.099},{"m":"2022-06","c":"MB","v":0.047},{"m":"2022-06","c":"MN","v":0.019},{"m":"2022-06","c":"NG","v":0.031},{"m":"2022-06","c":"BI","v":-0.031},{"m":"2022-06","c":"BA","v":-0.046},{"m":"2022-06","c":"CY","v":-0.028},{"m":"2022-06","c":"LA","v":-0.063},{"m":"2022-06","c":"NC","v":-0.058},{"m":"2022-06","c":"ON","v":-0.013},{"m":"2022-06","c":"SV","v":-0.09},{"m":"2022-06","c":"TE","v":-0.17},{"m":"2022-06","c":"TR","v":-0.04},
{"m":"2022-07","c":"AO","v":0.031},{"m":"2022-07","c":"CL","v":0.013},{"m":"2022-07","c":"CC","v":0.118},{"m":"2022-07","c":"CN","v":0.176},{"m":"2022-07","c":"EL","v":0.252},{"m":"2022-07","c":"EN","v":0.146},{"m":"2022-07","c":"IN","v":0.079},{"m":"2022-07","c":"MN","v":0.016},{"m":"2022-07","c":"NG","v":0.027},{"m":"2022-07","c":"TR","v":0.071},{"m":"2022-07","c":"AC","v":-0.027},{"m":"2022-07","c":"BK","v":-0.06},{"m":"2022-07","c":"BI","v":-0.079},{"m":"2022-07","c":"BA","v":-0.035},{"m":"2022-07","c":"CY","v":-0.039},{"m":"2022-07","c":"FC","v":-0.016},{"m":"2022-07","c":"LA","v":-0.063},{"m":"2022-07","c":"MB","v":-0.031},{"m":"2022-07","c":"NC","v":-0.055},{"m":"2022-07","c":"ON","v":-0.016},{"m":"2022-07","c":"RE","v":-0.028},{"m":"2022-07","c":"SV","v":-0.113},{"m":"2022-07","c":"TE","v":-0.145},
{"m":"2022-08","c":"AO","v":0.028},{"m":"2022-08","c":"BK","v":0.102},{"m":"2022-08","c":"CL","v":0.019},{"m":"2022-08","c":"CN","v":0.225},{"m":"2022-08","c":"EL","v":0.216},{"m":"2022-08","c":"EN","v":0.091},{"m":"2022-08","c":"IN","v":0.047},{"m":"2022-08","c":"MN","v":0.016},{"m":"2022-08","c":"NG","v":0.024},{"m":"2022-08","c":"TR","v":0.197},{"m":"2022-08","c":"AC","v":-0.03},{"m":"2022-08","c":"BI","v":-0.072},{"m":"2022-08","c":"BA","v":-0.027},{"m":"2022-08","c":"CG","v":-0.011},{"m":"2022-08","c":"CY","v":-0.036},{"m":"2022-08","c":"FC","v":-0.016},{"m":"2022-08","c":"LA","v":-0.063},{"m":"2022-08","c":"MB","v":-0.011},{"m":"2022-08","c":"NC","v":-0.057},{"m":"2022-08","c":"ON","v":-0.011},{"m":"2022-08","c":"RE","v":-0.024},{"m":"2022-08","c":"SV","v":-0.102},{"m":"2022-08","c":"TE","v":-0.142},
{"m":"2022-09","c":"AO","v":0.024},{"m":"2022-09","c":"BK","v":0.013},{"m":"2022-09","c":"CL","v":0.008},{"m":"2022-09","c":"CN","v":0.09},{"m":"2022-09","c":"EL","v":0.198},{"m":"2022-09","c":"EN","v":0.024},{"m":"2022-09","c":"IN","v":0.039},{"m":"2022-09","c":"MN","v":0.01},{"m":"2022-09","c":"NG","v":0.025},{"m":"2022-09","c":"TR","v":0.107},{"m":"2022-09","c":"AC","v":-0.03},{"m":"2022-09","c":"BI","v":-0.057},{"m":"2022-09","c":"BA","v":-0.031},{"m":"2022-09","c":"CC","v":-0.066},{"m":"2022-09","c":"CY","v":-0.055},{"m":"2022-09","c":"FC","v":-0.01},{"m":"2022-09","c":"LA","v":-0.047},{"m":"2022-09","c":"MB","v":-0.03},{"m":"2022-09","c":"NC","v":-0.05},{"m":"2022-09","c":"RE","v":-0.06},{"m":"2022-09","c":"SV","v":-0.1},{"m":"2022-09","c":"TE","v":-0.18},
{"m":"2022-10","c":"AO","v":0.024},{"m":"2022-10","c":"BK","v":0.142},{"m":"2022-10","c":"CL","v":0.013},{"m":"2022-10","c":"CN","v":0.169},{"m":"2022-10","c":"EL","v":0.22},{"m":"2022-10","c":"EN","v":0.028},{"m":"2022-10","c":"MN","v":0.027},{"m":"2022-10","c":"NG","v":0.02},{"m":"2022-10","c":"TR","v":0.05},{"m":"2022-10","c":"AC","v":-0.03},{"m":"2022-10","c":"BI","v":-0.052},{"m":"2022-10","c":"BA","v":-0.031},{"m":"2022-10","c":"CC","v":-0.027},{"m":"2022-10","c":"CY","v":-0.013},{"m":"2022-10","c":"FC","v":-0.02},{"m":"2022-10","c":"LA","v":-0.047},{"m":"2022-10","c":"MB","v":-0.071},{"m":"2022-10","c":"NC","v":-0.047},{"m":"2022-10","c":"RE","v":-0.063},{"m":"2022-10","c":"SV","v":-0.055},{"m":"2022-10","c":"TE","v":-0.25},
{"m":"2022-11","c":"AO","v":0.02},{"m":"2022-11","c":"BK","v":0.244},{"m":"2022-11","c":"CL","v":0.011},{"m":"2022-11","c":"CN","v":0.071},{"m":"2022-11","c":"EL","v":0.22},{"m":"2022-11","c":"EN","v":0.094},{"m":"2022-11","c":"FC","v":0.01},{"m":"2022-11","c":"MB","v":0.093},{"m":"2022-11","c":"MN","v":0.02},{"m":"2022-11","c":"NG","v":0.019},{"m":"2022-11","c":"TR","v":0.031},{"m":"2022-11","c":"AC","v":-0.027},{"m":"2022-11","c":"BI","v":-0.055},{"m":"2022-11","c":"BA","v":-0.031},{"m":"2022-11","c":"CC","v":-0.024},{"m":"2022-11","c":"CY","v":-0.019},{"m":"2022-11","c":"LA","v":-0.047},{"m":"2022-11","c":"NC","v":-0.06},{"m":"2022-11","c":"RE","v":-0.063},{"m":"2022-11","c":"SV","v":-0.09},{"m":"2022-11","c":"TE","v":-0.145},
{"m":"2022-12","c":"AO","v":0.02},{"m":"2022-12","c":"BK","v":0.118},{"m":"2022-12","c":"CG","v":0.027},{"m":"2022-12","c":"CL","v":0.024},{"m":"2022-12","c":"CN","v":0.099},{"m":"2022-12","c":"EL","v":0.153},{"m":"2022-12","c":"EN","v":0.065},{"m":"2022-12","c":"FC","v":0.016},{"m":"2022-12","c":"NG","v":0.027},{"m":"2022-12","c":"TR","v":0.06},{"m":"2022-12","c":"AC","v":-0.027},{"m":"2022-12","c":"BI","v":-0.05},{"m":"2022-12","c":"BA","v":-0.016},{"m":"2022-12","c":"CC","v":-0.057},{"m":"2022-12","c":"CY","v":-0.016},{"m":"2022-12","c":"LA","v":-0.05},{"m":"2022-12","c":"NC","v":-0.044},{"m":"2022-12","c":"RE","v":-0.074},{"m":"2022-12","c":"SV","v":-0.083},{"m":"2022-12","c":"TE","v":-0.121},
{"m":"2023-01","c":"AO","v":0.016},{"m":"2023-01","c":"BK","v":0.068},{"m":"2023-01","c":"CG","v":0.019},{"m":"2023-01","c":"CL","v":0.016},{"m":"2023-01","c":"CN","v":0.099},{"m":"2023-01","c":"EL","v":0.174},{"m":"2023-01","c":"EN","v":0.025},{"m":"2023-01","c":"FC","v":0.015},{"m":"2023-01","c":"MN","v":0.01},{"m":"2023-01","c":"NG","v":0.02},{"m":"2023-01","c":"TR","v":0.036},{"m":"2023-01","c":"AC","v":-0.024},{"m":"2023-01","c":"BI","v":-0.047},{"m":"2023-01","c":"BA","v":-0.019},{"m":"2023-01","c":"CC","v":-0.071},{"m":"2023-01","c":"CY","v":-0.016},{"m":"2023-01","c":"LA","v":-0.047},{"m":"2023-01","c":"MB","v":-0.031},{"m":"2023-01","c":"NC","v":-0.055},{"m":"2023-01","c":"RE","v":-0.055},{"m":"2023-01","c":"SV","v":-0.079},{"m":"2023-01","c":"TE","v":-0.126},
{"m":"2023-02","c":"AO","v":0.016},{"m":"2023-02","c":"BK","v":0.233},{"m":"2023-02","c":"CG","v":0.016},{"m":"2023-02","c":"CL","v":0.031},{"m":"2023-02","c":"CY","v":0.087},{"m":"2023-02","c":"CN","v":0.098},{"m":"2023-02","c":"EL","v":0.165},{"m":"2023-02","c":"EN","v":0.024},{"m":"2023-02","c":"FC","v":0.013},{"m":"2023-02","c":"NG","v":0.024},{"m":"2023-02","c":"TR","v":0.03},{"m":"2023-02","c":"AC","v":-0.024},{"m":"2023-02","c":"BI","v":-0.047},{"m":"2023-02","c":"BA","v":-0.019},{"m":"2023-02","c":"CC","v":-0.068},{"m":"2023-02","c":"IN","v":-0.019},{"m":"2023-02","c":"LA","v":-0.047},{"m":"2023-02","c":"MB","v":-0.036},{"m":"2023-02","c":"NC","v":-0.035},{"m":"2023-02","c":"ON","v":-0.013},{"m":"2023-02","c":"RE","v":-0.043},{"m":"2023-02","c":"SV","v":-0.039},{"m":"2023-02","c":"TE","v":-0.123},
{"m":"2023-03","c":"AO","v":0.013},{"m":"2023-03","c":"BK","v":0.189},{"m":"2023-03","c":"CL","v":0.027},{"m":"2023-03","c":"CY","v":0.083},{"m":"2023-03","c":"CN","v":0.2},{"m":"2023-03","c":"EL","v":0.135},{"m":"2023-03","c":"IN","v":0.027},{"m":"2023-03","c":"MN","v":0.011},{"m":"2023-03","c":"NG","v":0.016},{"m":"2023-03","c":"TR","v":0.028},{"m":"2023-03","c":"AC","v":-0.024},{"m":"2023-03","c":"BI","v":-0.047},{"m":"2023-03","c":"BA","v":-0.022},{"m":"2023-03","c":"CC","v":-0.079},{"m":"2023-03","c":"EN","v":-0.025},{"m":"2023-03","c":"LA","v":-0.043},{"m":"2023-03","c":"MB","v":-0.027},{"m":"2023-03","c":"NC","v":-0.028},{"m":"2023-03","c":"ON","v":-0.016},{"m":"2023-03","c":"RE","v":-0.044},{"m":"2023-03","c":"SV","v":-0.094},{"m":"2023-03","c":"TE","v":-0.031},
{"m":"2023-04","c":"AO","v":0.016},{"m":"2023-04","c":"BK","v":0.202},{"m":"2023-04","c":"BI","v":0.036},{"m":"2023-04","c":"CG","v":0.027},{"m":"2023-04","c":"CL","v":0.02},{"m":"2023-04","c":"CY","v":0.069},{"m":"2023-04","c":"CN","v":0.194},{"m":"2023-04","c":"EL","v":0.113},{"m":"2023-04","c":"IN","v":0.063},{"m":"2023-04","c":"MN","v":0.013},{"m":"2023-04","c":"NG","v":0.016},{"m":"2023-04","c":"TR","v":0.028},{"m":"2023-04","c":"AC","v":-0.024},{"m":"2023-04","c":"CC","v":-0.071},{"m":"2023-04","c":"EN","v":-0.022},{"m":"2023-04","c":"LA","v":-0.036},{"m":"2023-04","c":"MB","v":-0.076},{"m":"2023-04","c":"NC","v":-0.019},{"m":"2023-04","c":"RE","v":-0.047},{"m":"2023-04","c":"SV","v":-0.094},{"m":"2023-04","c":"TE","v":-0.079},
{"m":"2023-05","c":"AO","v":0.013},{"m":"2023-05","c":"BK","v":0.118},{"m":"2023-05","c":"BI","v":0.039},{"m":"2023-05","c":"CL","v":0.024},{"m":"2023-05","c":"CY","v":0.031},{"m":"2023-05","c":"CN","v":0.173},{"m":"2023-05","c":"EL","v":0.145},{"m":"2023-05","c":"EN","v":0.083},{"m":"2023-05","c":"FC","v":0.016},{"m":"2023-05","c":"IN","v":0.031},{"m":"2023-05","c":"NG","v":0.02},{"m":"2023-05","c":"TR","v":0.027},{"m":"2023-05","c":"AC","v":-0.024},{"m":"2023-05","c":"CC","v":-0.085},{"m":"2023-05","c":"LA","v":-0.041},{"m":"2023-05","c":"MB","v":-0.105},{"m":"2023-05","c":"NC","v":-0.02},{"m":"2023-05","c":"RE","v":-0.043},{"m":"2023-05","c":"SV","v":-0.09},{"m":"2023-05","c":"TE","v":-0.079},
{"m":"2023-06","c":"AO","v":0.013},{"m":"2023-06","c":"BK","v":0.027},{"m":"2023-06","c":"BI","v":0.044},{"m":"2023-06","c":"CN","v":0.085},{"m":"2023-06","c":"EL","v":0.135},{"m":"2023-06","c":"EN","v":0.17},{"m":"2023-06","c":"FC","v":0.014},{"m":"2023-06","c":"IN","v":0.036},{"m":"2023-06","c":"NG","v":0.02},{"m":"2023-06","c":"TR","v":0.027},{"m":"2023-06","c":"AC","v":-0.024},{"m":"2023-06","c":"CG","v":-0.027},{"m":"2023-06","c":"CC","v":-0.058},{"m":"2023-06","c":"CY","v":-0.02},{"m":"2023-06","c":"LA","v":-0.043},{"m":"2023-06","c":"MB","v":-0.107},{"m":"2023-06","c":"NC","v":-0.016},{"m":"2023-06","c":"RE","v":-0.044},{"m":"2023-06","c":"SV","v":-0.09},{"m":"2023-06","c":"TE","v":-0.079},
{"m":"2023-07","c":"AO","v":0.006},{"m":"2023-07","c":"BK","v":0.018},{"m":"2023-07","c":"BI","v":0.036},{"m":"2023-07","c":"CN","v":0.071},{"m":"2023-07","c":"EL","v":0.2},{"m":"2023-07","c":"EN","v":0.173},{"m":"2023-07","c":"FC","v":0.02},{"m":"2023-07","c":"IN","v":0.024},{"m":"2023-07","c":"NG","v":0.02},{"m":"2023-07","c":"TR","v":0.024},{"m":"2023-07","c":"AC","v":-0.024},{"m":"2023-07","c":"CG","v":-0.022},{"m":"2023-07","c":"CC","v":-0.068},{"m":"2023-07","c":"CY","v":-0.02},{"m":"2023-07","c":"LA","v":-0.043},{"m":"2023-07","c":"MB","v":-0.094},{"m":"2023-07","c":"NC","v":-0.02},{"m":"2023-07","c":"RE","v":-0.043},{"m":"2023-07","c":"SV","v":-0.071},{"m":"2023-07","c":"TE","v":-0.066},
{"m":"2023-08","c":"BK","v":0.033},{"m":"2023-08","c":"BI","v":0.035},{"m":"2023-08","c":"BA","v":0.016},{"m":"2023-08","c":"CN","v":0.039},{"m":"2023-08","c":"EL","v":0.178},{"m":"2023-08","c":"EN","v":0.173},{"m":"2023-08","c":"FC","v":0.016},{"m":"2023-08","c":"IN","v":0.035},{"m":"2023-08","c":"NG","v":0.02},{"m":"2023-08","c":"TR","v":0.024},{"m":"2023-08","c":"AC","v":-0.019},{"m":"2023-08","c":"CG","v":-0.024},{"m":"2023-08","c":"CC","v":-0.066},{"m":"2023-08","c":"CY","v":-0.036},{"m":"2023-08","c":"LA","v":-0.043},{"m":"2023-08","c":"MB","v":-0.12},{"m":"2023-08","c":"NC","v":-0.016},{"m":"2023-08","c":"RE","v":-0.027},{"m":"2023-08","c":"SV","v":-0.068},{"m":"2023-08","c":"TE","v":-0.063},
{"m":"2023-09","c":"BI","v":0.028},{"m":"2023-09","c":"BA","v":0.024},{"m":"2023-09","c":"CC","v":0.027},{"m":"2023-09","c":"CN","v":0.076},{"m":"2023-09","c":"EL","v":0.192},{"m":"2023-09","c":"EN","v":0.157},{"m":"2023-09","c":"FC","v":0.02},{"m":"2023-09","c":"IN","v":0.028},{"m":"2023-09","c":"NG","v":0.014},{"m":"2023-09","c":"TR","v":0.028},{"m":"2023-09","c":"AC","v":-0.019},{"m":"2023-09","c":"BK","v":-0.031},{"m":"2023-09","c":"CG","v":-0.02},{"m":"2023-09","c":"CY","v":-0.038},{"m":"2023-09","c":"LA","v":-0.047},{"m":"2023-09","c":"MB","v":-0.1},{"m":"2023-09","c":"NC","v":-0.027},{"m":"2023-09","c":"RE","v":-0.025},{"m":"2023-09","c":"SV","v":-0.066},{"m":"2023-09","c":"TE","v":-0.047},
{"m":"2023-10","c":"BA","v":0.013},{"m":"2023-10","c":"CL","v":0.016},{"m":"2023-10","c":"CC","v":0.02},{"m":"2023-10","c":"CN","v":0.043},{"m":"2023-10","c":"EL","v":0.2},{"m":"2023-10","c":"EN","v":0.024},{"m":"2023-10","c":"FC","v":0.013},{"m":"2023-10","c":"IN","v":0.011},{"m":"2023-10","c":"NG","v":0.016},{"m":"2023-10","c":"TR","v":0.013},{"m":"2023-10","c":"AC","v":-0.019},{"m":"2023-10","c":"BK","v":-0.043},{"m":"2023-10","c":"CG","v":-0.02},{"m":"2023-10","c":"CY","v":-0.076},{"m":"2023-10","c":"LA","v":-0.016},{"m":"2023-10","c":"MB","v":-0.137},{"m":"2023-10","c":"NC","v":-0.013},{"m":"2023-10","c":"RE","v":-0.019},{"m":"2023-10","c":"SV","v":-0.071},{"m":"2023-10","c":"TE","v":-0.055},
{"m":"2023-11","c":"BK","v":0.068},{"m":"2023-11","c":"BI","v":0.008},{"m":"2023-11","c":"CL","v":0.011},{"m":"2023-11","c":"EL","v":0.068},{"m":"2023-11","c":"NG","v":0.011},{"m":"2023-11","c":"TR","v":0.013},{"m":"2023-11","c":"AC","v":-0.019},{"m":"2023-11","c":"CG","v":-0.031},{"m":"2023-11","c":"CC","v":-0.035},{"m":"2023-11","c":"CY","v":-0.072},{"m":"2023-11","c":"EN","v":-0.039},{"m":"2023-11","c":"FC","v":-0.016},{"m":"2023-11","c":"LA","v":-0.05},{"m":"2023-11","c":"MB","v":-0.06},{"m":"2023-11","c":"NC","v":-0.008},{"m":"2023-11","c":"RE","v":-0.027},{"m":"2023-11","c":"SV","v":-0.06},{"m":"2023-11","c":"TE","v":-0.066},
{"m":"2023-12","c":"BK","v":0.244},{"m":"2023-12","c":"BI","v":0.013},{"m":"2023-12","c":"BA","v":0.011},{"m":"2023-12","c":"FC","v":0.013},{"m":"2023-12","c":"NG","v":0.063},{"m":"2023-12","c":"TR","v":0.011},{"m":"2023-12","c":"AC","v":-0.014},{"m":"2023-12","c":"CG","v":-0.025},{"m":"2023-12","c":"CY","v":-0.082},{"m":"2023-12","c":"CN","v":-0.039},{"m":"2023-12","c":"EN","v":-0.05},{"m":"2023-12","c":"IN","v":-0.013},{"m":"2023-12","c":"LA","v":-0.052},{"m":"2023-12","c":"MB","v":-0.09},{"m":"2023-12","c":"NC","v":-0.016},{"m":"2023-12","c":"RE","v":-0.031},{"m":"2023-12","c":"SV","v":-0.068},{"m":"2023-12","c":"TE","v":-0.058},
{"m":"2024-01","c":"AO","v":0.008},{"m":"2024-01","c":"BK","v":0.146},{"m":"2024-01","c":"BI","v":0.011},{"m":"2024-01","c":"CL","v":0.013},{"m":"2024-01","c":"MN","v":0.008},{"m":"2024-01","c":"NG","v":0.055},{"m":"2024-01","c":"TR","v":0.013},{"m":"2024-01","c":"AC","v":-0.014},{"m":"2024-01","c":"CG","v":-0.025},{"m":"2024-01","c":"CC","v":-0.022},{"m":"2024-01","c":"CY","v":-0.076},{"m":"2024-01","c":"CN","v":-0.02},{"m":"2024-01","c":"EN","v":-0.05},{"m":"2024-01","c":"FC","v":-0.016},{"m":"2024-01","c":"LA","v":-0.036},{"m":"2024-01","c":"MB","v":-0.102},{"m":"2024-01","c":"NC","v":-0.016},{"m":"2024-01","c":"RE","v":-0.035},{"m":"2024-01","c":"SV","v":-0.06},{"m":"2024-01","c":"TE","v":-0.05},
{"m":"2024-02","c":"AO","v":0.013},{"m":"2024-02","c":"BK","v":0.299},{"m":"2024-02","c":"BI","v":0.008},{"m":"2024-02","c":"BA","v":0.019},{"m":"2024-02","c":"GS","v":0.013},{"m":"2024-02","c":"NG","v":0.068},{"m":"2024-02","c":"ON","v":0.025},{"m":"2024-02","c":"TR","v":0.018},{"m":"2024-02","c":"AC","v":-0.014},{"m":"2024-02","c":"CG","v":-0.025},{"m":"2024-02","c":"CC","v":-0.022},{"m":"2024-02","c":"CY","v":-0.072},{"m":"2024-02","c":"CN","v":-0.027},{"m":"2024-02","c":"EN","v":-0.055},{"m":"2024-02","c":"FC","v":-0.016},{"m":"2024-02","c":"LA","v":-0.031},{"m":"2024-02","c":"MB","v":-0.091},{"m":"2024-02","c":"NC","v":-0.008},{"m":"2024-02","c":"SV","v":-0.043},{"m":"2024-02","c":"TE","v":-0.052},
{"m":"2024-03","c":"BK","v":0.378},{"m":"2024-03","c":"BA","v":0.017},{"m":"2024-03","c":"CN","v":0.014},{"m":"2024-03","c":"EL","v":0.118},{"m":"2024-03","c":"MN","v":0.028},{"m":"2024-03","c":"NG","v":0.071},{"m":"2024-03","c":"ON","v":0.013},{"m":"2024-03","c":"RE","v":0.011},{"m":"2024-03","c":"TR","v":0.016},{"m":"2024-03","c":"BI","v":-0.014},{"m":"2024-03","c":"CG","v":-0.02},{"m":"2024-03","c":"CC","v":-0.024},{"m":"2024-03","c":"CY","v":-0.103},{"m":"2024-03","c":"EN","v":-0.063},{"m":"2024-03","c":"IN","v":-0.024},{"m":"2024-03","c":"LA","v":-0.039},{"m":"2024-03","c":"MB","v":-0.079},{"m":"2024-03","c":"NC","v":-0.008},{"m":"2024-03","c":"SV","v":-0.044},{"m":"2024-03","c":"TE","v":-0.022},
{"m":"2024-04","c":"BK","v":0.26},{"m":"2024-04","c":"BA","v":0.013},{"m":"2024-04","c":"CN","v":0.024},{"m":"2024-04","c":"EL","v":0.153},{"m":"2024-04","c":"MN","v":0.031},{"m":"2024-04","c":"NG","v":0.063},{"m":"2024-04","c":"ON","v":0.013},{"m":"2024-04","c":"TR","v":0.039},{"m":"2024-04","c":"AC","v":-0.019},{"m":"2024-04","c":"CG","v":-0.03},{"m":"2024-04","c":"CY","v":-0.074},{"m":"2024-04","c":"EN","v":-0.099},{"m":"2024-04","c":"IN","v":-0.031},{"m":"2024-04","c":"LA","v":-0.036},{"m":"2024-04","c":"MB","v":-0.031},{"m":"2024-04","c":"NC","v":-0.011},{"m":"2024-04","c":"RE","v":-0.036},{"m":"2024-04","c":"SV","v":-0.09},{"m":"2024-04","c":"TE","v":-0.031},
{"m":"2024-05","c":"BK","v":0.3},{"m":"2024-05","c":"BI","v":0.013},{"m":"2024-05","c":"BA","v":0.027},{"m":"2024-05","c":"EL","v":0.131},{"m":"2024-05","c":"MN","v":0.02},{"m":"2024-05","c":"NG","v":0.066},{"m":"2024-05","c":"ON","v":0.013},{"m":"2024-05","c":"TR","v":0.043},{"m":"2024-05","c":"AC","v":-0.019},{"m":"2024-05","c":"CC","v":-0.036},{"m":"2024-05","c":"CY","v":-0.066},{"m":"2024-05","c":"EN","v":-0.082},{"m":"2024-05","c":"IN","v":-0.057},{"m":"2024-05","c":"LA","v":-0.035},{"m":"2024-05","c":"MB","v":-0.071},{"m":"2024-05","c":"NC","v":-0.016},{"m":"2024-05","c":"RE","v":-0.039},{"m":"2024-05","c":"SV","v":-0.087},
{"m":"2024-06","c":"BK","v":0.233},{"m":"2024-06","c":"BI","v":0.011},{"m":"2024-06","c":"BA","v":0.02},{"m":"2024-06","c":"CL","v":0.02},{"m":"2024-06","c":"CN","v":0.047},{"m":"2024-06","c":"EL","v":0.117},{"m":"2024-06","c":"MN","v":0.013},{"m":"2024-06","c":"NG","v":0.079},{"m":"2024-06","c":"ON","v":0.008},{"m":"2024-06","c":"TE","v":0.031},{"m":"2024-06","c":"TR","v":0.036},{"m":"2024-06","c":"AC","v":-0.019},{"m":"2024-06","c":"CC","v":-0.055},{"m":"2024-06","c":"CY","v":-0.024},{"m":"2024-06","c":"EN","v":-0.031},{"m":"2024-06","c":"IN","v":-0.031},{"m":"2024-06","c":"LA","v":-0.036},{"m":"2024-06","c":"MB","v":-0.047},{"m":"2024-06","c":"NC","v":-0.031},{"m":"2024-06","c":"RE","v":-0.027},{"m":"2024-06","c":"SV","v":-0.094},
{"m":"2024-07","c":"BK","v":0.178},{"m":"2024-07","c":"BA","v":0.024},{"m":"2024-07","c":"CL","v":0.016},{"m":"2024-07","c":"CN","v":0.074},{"m":"2024-07","c":"EL","v":0.104},{"m":"2024-07","c":"MN","v":0.019},{"m":"2024-07","c":"NG","v":0.087},{"m":"2024-07","c":"ON","v":0.011},{"m":"2024-07","c":"TE","v":0.024},{"m":"2024-07","c":"TR","v":0.028},{"m":"2024-07","c":"BI","v":-0.027},{"m":"2024-07","c":"CC","v":-0.055},{"m":"2024-07","c":"CY","v":-0.043},{"m":"2024-07","c":"EN","v":-0.044},{"m":"2024-07","c":"IN","v":-0.031},{"m":"2024-07","c":"LA","v":-0.035},{"m":"2024-07","c":"MB","v":-0.031},{"m":"2024-07","c":"NC","v":-0.025},{"m":"2024-07","c":"RE","v":-0.031},{"m":"2024-07","c":"SV","v":-0.09},
{"m":"2024-08","c":"AO","v":0.016},{"m":"2024-08","c":"BK","v":0.17},{"m":"2024-08","c":"BA","v":0.02},{"m":"2024-08","c":"CN","v":0.019},{"m":"2024-08","c":"EL","v":0.09},{"m":"2024-08","c":"MN","v":0.031},{"m":"2024-08","c":"NG","v":0.068},{"m":"2024-08","c":"ON","v":0.011},{"m":"2024-08","c":"TE","v":0.017},{"m":"2024-08","c":"TR","v":0.028},{"m":"2024-08","c":"BI","v":-0.03},{"m":"2024-08","c":"CG","v":-0.028},{"m":"2024-08","c":"CC","v":-0.05},{"m":"2024-08","c":"CY","v":-0.052},{"m":"2024-08","c":"EN","v":-0.039},{"m":"2024-08","c":"IN","v":-0.039},{"m":"2024-08","c":"LA","v":-0.036},{"m":"2024-08","c":"MB","v":-0.074},{"m":"2024-08","c":"NC","v":-0.024},{"m":"2024-08","c":"RE","v":-0.031},{"m":"2024-08","c":"SV","v":-0.079},
{"m":"2024-09","c":"AO","v":0.016},{"m":"2024-09","c":"BK","v":0.142},{"m":"2024-09","c":"BA","v":0.017},{"m":"2024-09","c":"CN","v":0.043},{"m":"2024-09","c":"EL","v":0.129},{"m":"2024-09","c":"MN","v":0.031},{"m":"2024-09","c":"NG","v":0.063},{"m":"2024-09","c":"ON","v":0.016},{"m":"2024-09","c":"TE","v":0.016},{"m":"2024-09","c":"TR","v":0.028},{"m":"2024-09","c":"UO","v":0.02},{"m":"2024-09","c":"BI","v":-0.011},{"m":"2024-09","c":"CG","v":-0.022},{"m":"2024-09","c":"CC","v":-0.049},{"m":"2024-09","c":"CY","v":-0.03},{"m":"2024-09","c":"IN","v":-0.041},{"m":"2024-09","c":"LA","v":-0.031},{"m":"2024-09","c":"MB","v":-0.09},{"m":"2024-09","c":"NC","v":-0.024},{"m":"2024-09","c":"RE","v":-0.028},{"m":"2024-09","c":"SV","v":-0.082},
{"m":"2024-10","c":"AO","v":0.013},{"m":"2024-10","c":"BK","v":0.115},{"m":"2024-10","c":"BA","v":0.027},{"m":"2024-10","c":"CN","v":0.102},{"m":"2024-10","c":"EL","v":0.118},{"m":"2024-10","c":"MN","v":0.027},{"m":"2024-10","c":"NG","v":0.055},{"m":"2024-10","c":"ON","v":0.041},{"m":"2024-10","c":"TE","v":0.035},{"m":"2024-10","c":"TR","v":0.027},{"m":"2024-10","c":"UO","v":0.01},{"m":"2024-10","c":"BI","v":-0.019},{"m":"2024-10","c":"CG","v":-0.011},{"m":"2024-10","c":"CC","v":-0.052},{"m":"2024-10","c":"CY","v":-0.043},{"m":"2024-10","c":"EN","v":-0.016},{"m":"2024-10","c":"IN","v":-0.02},{"m":"2024-10","c":"LA","v":-0.031},{"m":"2024-10","c":"MB","v":-0.082},{"m":"2024-10","c":"NC","v":-0.016},{"m":"2024-10","c":"RE","v":-0.02},{"m":"2024-10","c":"SV","v":-0.094},
{"m":"2024-11","c":"AO","v":0.028},{"m":"2024-11","c":"BK","v":0.102},{"m":"2024-11","c":"BA","v":0.031},{"m":"2024-11","c":"CC","v":0.043},{"m":"2024-11","c":"CN","v":0.178},{"m":"2024-11","c":"EL","v":0.129},{"m":"2024-11","c":"MN","v":0.044},{"m":"2024-11","c":"NG","v":0.055},{"m":"2024-11","c":"ON","v":0.031},{"m":"2024-11","c":"TE","v":0.016},{"m":"2024-11","c":"TR","v":0.027},{"m":"2024-11","c":"UO","v":0.008},{"m":"2024-11","c":"CG","v":-0.024},{"m":"2024-11","c":"CY","v":-0.039},{"m":"2024-11","c":"IN","v":-0.035},{"m":"2024-11","c":"LA","v":-0.028},{"m":"2024-11","c":"MB","v":-0.098},{"m":"2024-11","c":"NC","v":-0.02},{"m":"2024-11","c":"RE","v":-0.019},{"m":"2024-11","c":"SV","v":-0.087},
{"m":"2024-12","c":"AO","v":0.06},{"m":"2024-12","c":"BK","v":0.118},{"m":"2024-12","c":"BA","v":0.035},{"m":"2024-12","c":"CC","v":0.076},{"m":"2024-12","c":"CN","v":0.181},{"m":"2024-12","c":"EL","v":0.225},{"m":"2024-12","c":"FC","v":0.011},{"m":"2024-12","c":"MN","v":0.036},{"m":"2024-12","c":"NG","v":0.058},{"m":"2024-12","c":"ON","v":0.031},{"m":"2024-12","c":"TE","v":0.027},{"m":"2024-12","c":"TR","v":0.025},{"m":"2024-12","c":"UO","v":0.011},{"m":"2024-12","c":"CG","v":-0.024},{"m":"2024-12","c":"CY","v":-0.043},{"m":"2024-12","c":"IN","v":-0.02},{"m":"2024-12","c":"LA","v":-0.028},{"m":"2024-12","c":"MB","v":-0.113},{"m":"2024-12","c":"NC","v":-0.019},{"m":"2024-12","c":"RE","v":-0.016},{"m":"2024-12","c":"SV","v":-0.094},
{"m":"2025-01","c":"AO","v":0.071},{"m":"2025-01","c":"BK","v":0.079},{"m":"2025-01","c":"BA","v":0.028},{"m":"2025-01","c":"CC","v":0.027},{"m":"2025-01","c":"CN","v":0.115},{"m":"2025-01","c":"EL","v":0.076},{"m":"2025-01","c":"MN","v":0.043},{"m":"2025-01","c":"NG","v":0.043},{"m":"2025-01","c":"ON","v":0.031},{"m":"2025-01","c":"TE","v":0.028},{"m":"2025-01","c":"TR","v":0.024},{"m":"2025-01","c":"CG","v":-0.019},{"m":"2025-01","c":"CY","v":-0.068},{"m":"2025-01","c":"IN","v":-0.008},{"m":"2025-01","c":"LA","v":-0.035},{"m":"2025-01","c":"MB","v":-0.079},{"m":"2025-01","c":"NC","v":-0.024},{"m":"2025-01","c":"RE","v":-0.013},{"m":"2025-01","c":"SV","v":-0.09}
]},
"vconcat":[
{"width":1297,"height":121.7,
"layer":[
{"data":{"name":"beta"},"mark":{"type":"line","color":"#4fbe8b","strokeWidth":4.5},
"encoding":{"x":{"field":"m","type":"ordinal","bandPosition":0.5,"scale":{"type":"band","paddingInner":0.216,"paddingOuter":0.108},"axis":{"title":null,"grid":false,"labelAngle":0,"labelPadding":21,"labelOverlap":false,"labelExpr":"slice(datum.value,5)=='01' ? slice(datum.value,0,4) : ''"}},
"y":{"field":"b","type":"quantitative","scale":{"domain":[0.6,1.4],"nice":false,"zero":false},"axis":{"values":[0.6,1.0,1.4],"format":".1f","title":"DTS Beta","labelPadding":28,"titlePadding":6}}}},
{"data":{"values":[{}]},"mark":{"type":"rule","color":"#0e4f5b","strokeWidth":3,"strokeDash":[10,8]},"encoding":{"y":{"datum":1}}}
]},
{"hconcat":[
{"width":1297,"height":635.1,
"layer":[
{"data":{"name":"bars"},
"transform":[{"lookup":"c","from":{"data":{"name":"cats"},"key":"c","fields":["s","o"]}}],
"mark":{"type":"bar","stroke":"white","strokeWidth":0.6,"strokeOpacity":0.6},
"encoding":{
"x":{"field":"m","type":"ordinal","scale":{"paddingInner":0.216,"paddingOuter":0.108},"axis":{"title":null,"grid":false,"labelAngle":0,"labelPadding":21,"labelOverlap":false,"labelExpr":"slice(datum.value,5)=='01' ? slice(datum.value,0,4) : ''"}},
"y":{"field":"v","type":"quantitative","stack":"zero","scale":{"domain":[-1,2],"nice":false},"axis":{"values":[-1,0,1,2],"labelExpr":"datum.value < 0 ? '-' + (-datum.value) : '' + datum.value","title":"DTS","labelPadding":25,"titlePadding":-6}},
"color":{"field":"s","type":"nominal","scale":{"domain":["ABS Other","Agency CMBS","Banking","Basic Industry","Brokerage","Brokerage AM Exch","Capital Goods","Car Loan","Cash","CMBS","CMO","Communications","Consumer Cyclical","Consumer NonCyclical","Credit Card","Electric","Energy","Finance Companies","Financial Other","Futures","Government Guarantee","Government Sponsored","Home Equity","Industrial Other","Insurance","Local Authorities","Mortgage Assets","MBS Agency","MBS Agency Hybrid","MBS NonAgency","Natural Gas","NonAgency CMBS","Owned No Guarantee","Public Sector Collat","REITs","Sovereign","Stranded Utility","Supranational","Technology","Transportation","Treasuries","Utility Other","Other"],
"range":["#8a9a2b","#3c9a6f","#44709f","#a33b35","#e07a28","#e0b03f","#4e5a1c","#1f5a3d","#233a5e","#6b2222","#7b4518","#93711b","#adc837","#53bb8e","#5f8dc0","#c9514b","#e29352","#e6c269","#6b7a22","#2e7d57","#2e4c74","#8a2e2b","#b05a22","#c49a23","#c3d76d","#80cfaa","#8aaad0","#d67e77","#e8a87a","#edd38f","#434b15","#1e4a36","#223550","#5a1d1d","#6e3b15","#7a5b19","#b9d24f","#66c59b","#749bc8","#cd6a61","#e3995b","#e8c876","#2596c9"]},
"legend":{"orient":"none","legendX":-276,"legendY":0.8,"title":null,"labelFont":"Liberation Sans","labelFontSize":16,"labelColor":"#595959","symbolType":"square","symbolSize":81,"symbolStrokeWidth":0,"symbolOpacity":1,"symbolLimit":100,"rowPadding":5.14,"labelOffset":3,"labelLimit":400,"padding":0,"direction":"vertical","columns":1}},
"order":{"field":"o","type":"quantitative","sort":"ascending"}}},
{"data":{"values":[{}]},"mark":{"type":"rule","color":"#d9d9d9","strokeWidth":2.5},"encoding":{"y":{"datum":0}}}
]},
{"width":230,"height":635.1,"data":{"name":"notes"},
"encoding":{"x":{"datum":0,"type":"quantitative","scale":{"domain":[0,1]},"axis":null},
"y":{"field":"k","type":"quantitative","scale":{"domain":[-5.327,17.626],"reverse":true,"nice":false,"zero":false},"axis":null},
"text":{"field":"t"}},
"layer":[
{"transform":[{"filter":"datum.h"}],"mark":{"type":"text","align":"left","baseline":"middle","fontSize":21,"font":"Liberation Sans","fontWeight":"bold","color":"#000000"}},
{"transform":[{"filter":"!datum.h"}],"mark":{"type":"text","align":"left","baseline":"middle","fontSize":21,"font":"Liberation Sans","color":"#595959"}}
]}
],"spacing":14.7,"bounds":"flush"}
],
"spacing":62.6,"bounds":"flush"
}
